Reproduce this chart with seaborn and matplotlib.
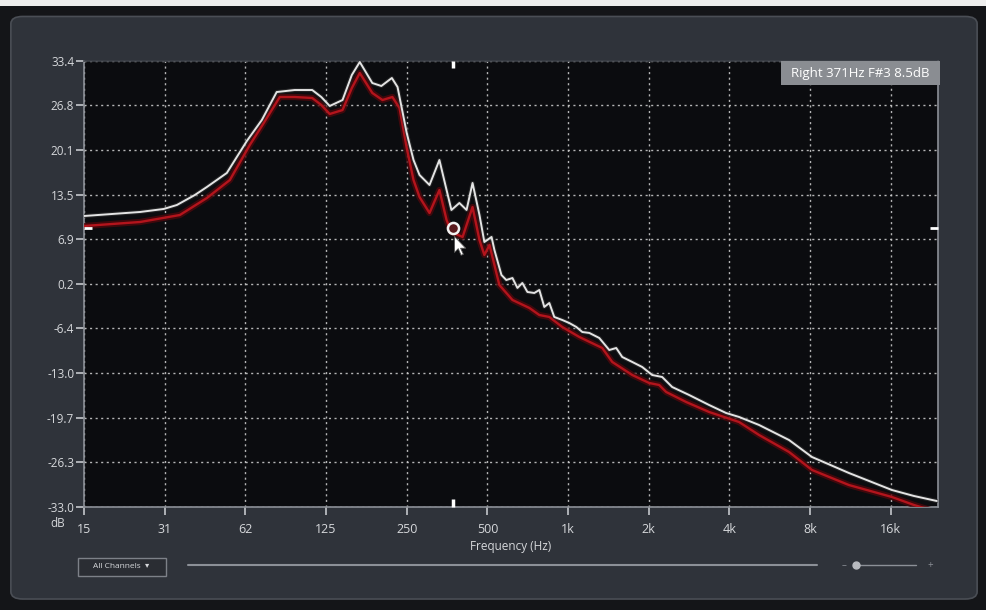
"""
Spectrum analyser view - left/right channel frequency response
"""

import numpy as np
import pandas as pd
import matplotlib.pyplot as plt
import seaborn as sns
from matplotlib.patches import FancyBboxPatch, Rectangle
from matplotlib.path import Path

# ---------------------------------------------------------------
# DATA
# ---------------------------------------------------------------

# white trace
freq_left = [15.6, 25.3, 31.0, 34.7, 40.5, 44.9, 53.3, 63.3, 72.0, 81.8,
             95.5, 111, 120, 129, 144, 156, 167, 186, 201, 220,
             231, 250, 265, 279, 304, 331, 352, 367, 393, 418,
             440, 467, 487, 518, 531, 564, 588, 620, 647, 675,
             705, 748, 781, 815, 851, 888, 951, 1010, 1073, 1130,
             1200, 1307, 1424, 1512, 1592, 1735, 1890, 2059, 2244, 2445,
             2829, 3359, 3886, 4344, 5156, 6672, 8125, 11158, 16137, 19500,
             23735]
left_db = [10.32, 10.92, 11.37, 11.96, 13.45, 14.64, 16.73, 21.49, 24.62, 28.78,
           29.08, 29.08, 28.04, 26.70, 27.59, 31.32, 33.25, 30.12, 29.68, 30.87,
           29.53, 22.68, 18.66, 16.43, 14.94, 18.66, 14.19, 11.22, 12.26, 11.22,
           15.24, 10.47, 6.45, 7.20, 5.26, 1.54, 0.79, 1.09, -0.39, 0.35,
           -0.99, -1.14, -0.69, -3.22, -2.63, -4.71, -5.16, -5.61, -6.20, -6.95,
           -7.09, -7.84, -9.63, -9.33, -10.67, -11.41, -12.16, -13.35, -13.65, -15.14,
           -16.33, -17.82, -19.01, -19.60, -20.79, -23.03, -25.56, -27.94, -30.47, -31.36,
           -32.11]

# red trace
freq_right = [15.6, 25.3, 35.6, 44.9, 54.7, 64.9, 72.0, 84.0, 95.5, 111,
              120, 129, 144, 156, 167, 186, 203, 221, 235, 250,
              265, 279, 304, 331, 352, 367, 404, 440, 467, 487,
              509, 554, 620, 717, 781, 851, 951, 1101, 1341, 1461,
              1735, 2006, 2187, 2322, 2757, 3359, 4344, 5156, 6672, 8125,
              11158, 16137, 19500, 23735]
right_db = [8.83, 9.43, 10.47, 13.00, 15.68, 20.89, 23.72, 28.04, 28.04, 27.89,
            26.85, 25.51, 26.10, 29.38, 31.61, 28.64, 27.59, 28.04, 26.40, 20.45,
            15.68, 13.15, 10.77, 14.19, 9.73, 7.94, 7.20, 11.66, 6.75, 4.52,
            6.01, 0.05, -2.18, -3.37, -4.42, -4.71, -6.20, -7.69, -9.33, -11.41,
            -13.35, -14.54, -14.84, -15.88, -17.37, -18.86, -20.35, -22.28, -24.81, -27.49,
            -29.73, -31.51, -32.70, -33.74]

xtick_labels = ["15", "31", "62", "125", "250", "500", "1k", "2k", "4k", "8k", "16k"]
ytick_labels = ["-33.0", "-26.3", "-19.7", "-13.0", "-6.4", "0.2",
                "6.9", "13.5", "20.1", "26.8", "33.4"]

cursor_hz = 371
cursor_db = 8.5
cursor_text = "Right 371Hz F#3 8.5dB"

df_left = pd.DataFrame({"freq": freq_left, "db": left_db})
df_right = pd.DataFrame({"freq": freq_right, "db": right_db})

# ---------------------------------------------------------------
# STYLE
# ---------------------------------------------------------------

sns.set_theme(style="dark")
plt.rcParams["font.family"] = ["Open Sans", "DejaVu Sans"]

panel_col = "#2f333a"
text_col = "#d6d8db"
axis_col = "#8c9097"
tick_col = "#b9bcc1"

fig = plt.figure(figsize=(9.87, 6.10), dpi=100, facecolor="#141518")

# window panel behind everything
fig.patches.append(Rectangle((0, 0.99), 1, 0.01, transform=fig.transFigure,
                             facecolor="#eeeeee", edgecolor="none", zorder=-10))
fig.patches.append(FancyBboxPatch((0.011, 0.018), 0.979, 0.955,
                                  boxstyle="round,pad=0,rounding_size=0.012",
                                  transform=fig.transFigure, facecolor=panel_col,
                                  edgecolor="#4a4e55", linewidth=1.2, zorder=-10))

ax = fig.add_axes([0.0851, 0.1689, 0.8653, 0.7311])
ax.set_facecolor("#0b0c0f")

# ---------------------------------------------------------------
# CURVES
# ---------------------------------------------------------------

# red channel with a soft glow
sns.lineplot(data=df_right, x="freq", y="db", ax=ax, color="#4e080c",
             linewidth=4.5, alpha=0.8, zorder=3)
sns.lineplot(data=df_right, x="freq", y="db", ax=ax, color="#b3141c",
             linewidth=1.7, zorder=4)
sns.lineplot(data=df_left, x="freq", y="db", ax=ax, color="#333333",
             linewidth=3.0, alpha=0.6, zorder=5)
sns.lineplot(data=df_left, x="freq", y="db", ax=ax, color="#e4e4e4",
             linewidth=1.4, zorder=6)

# ---------------------------------------------------------------
# AXES
# ---------------------------------------------------------------

ax.set_xscale("log", base=2)
xticks = [15.625 * 2 ** i for i in range(len(xtick_labels))]
ax.set_xlim(15.625, 24000)
ax.set_ylim(-33.0, 33.4)
ax.set_xticks(xticks)
ax.set_xticklabels(xtick_labels)
ax.set_yticks([float(v) for v in ytick_labels])
ax.set_yticklabels(ytick_labels)
ax.minorticks_off()

ax.grid(True, color="#c9c9c9", linestyle=(0, (1.5, 2.5)), linewidth=1.0, alpha=0.9)
ax.set_axisbelow(True)

# seaborn's dark style hides tick marks, switch them back on
ax.tick_params(axis="both", bottom=True, left=True, colors=tick_col,
               labelcolor=text_col, labelsize=8.5, direction="out",
               length=6, width=1.3)
ax.tick_params(axis="x", pad=5.5, labelsize=9)
ax.tick_params(axis="y", pad=1)
for side in ["left", "bottom", "right", "top"]:
    ax.spines[side].set_visible(True)
    ax.spines[side].set_color(axis_col)
    ax.spines[side].set_linewidth(1.2)
ax.spines["top"].set_color("#3c4047")

ax.set_xlabel("Frequency (Hz)", color=text_col, fontsize=8.5, labelpad=3)
ax.set_ylabel("")
fig.text(0.058, 0.142, "dB", color=text_col, fontsize=8.5, ha="center", va="center")

# ---------------------------------------------------------------
# CURSOR
# ---------------------------------------------------------------

# little white markers on the inside of the frame at the cursor position
down = Path([(0, 0), (0, -1)])
up = Path([(0, 0), (0, 1)])
rightward = Path([(0, 0), (1, 0)])
leftward = Path([(0, 0), (-1, 0)])
ax.plot([cursor_hz], [33.4], marker=down, markersize=10, color="white", mew=2.5,
        clip_on=False, zorder=8)
ax.plot([cursor_hz], [-33.0], marker=up, markersize=12, color="white", mew=2.5,
        clip_on=False, zorder=8)
ax.plot([15.625], [cursor_db], marker=rightward, markersize=12, color="white", mew=2,
        clip_on=False, zorder=8)
ax.plot([24000], [cursor_db], marker=leftward, markersize=12, color="white", mew=2,
        clip_on=False, zorder=8)

ax.plot([cursor_hz], [cursor_db], marker="o", markersize=8, markerfacecolor="#5a1a1e",
        markeredgecolor="#f2f2f2", mew=1.8, zorder=9)
arrow = Path([(0, 0), (0, -17), (4, -13), (7, -20), (9.5, -19), (6.5, -12.5),
              (12, -12.5), (0, 0)])
ax.plot([cursor_hz * 1.015], [cursor_db - 1.2], marker=arrow, markersize=27,
        color="white", mec="#555555", mew=0.6, zorder=10)

# readout box in the top right corner
ax.add_patch(Rectangle((0.816, 0.946), 0.186, 0.054, transform=ax.transAxes,
                       facecolor="#8a8d92", edgecolor="none", clip_on=False, zorder=11))
ax.text(0.909, 0.973, cursor_text, transform=ax.transAxes, ha="center", va="center",
        color="white", fontsize=9.5, zorder=12)

# ---------------------------------------------------------------
# BOTTOM CONTROLS
# ---------------------------------------------------------------

fig.patches.append(Rectangle((0.079, 0.056), 0.089, 0.03, transform=fig.transFigure,
                             facecolor="#2a2d33", edgecolor="#7d8188", linewidth=1.0))
fig.text(0.123, 0.071, "All Channels  \u25be", color=text_col, fontsize=6,
         ha="center", va="center")
fig.lines.append(plt.Line2D([0.19, 0.828], [0.073, 0.073], transform=fig.transFigure,
                            color="#8c9097", linewidth=1.5))
fig.lines.append(plt.Line2D([0.867, 0.928], [0.073, 0.073], transform=fig.transFigure,
                            color="#8c9097", linewidth=1.0))
fig.lines.append(plt.Line2D([0.867], [0.073], transform=fig.transFigure, marker="o",
                            markersize=5, color="#b8bbc0"))
fig.text(0.855, 0.073, "\u2013", color=axis_col, fontsize=7, ha="center", va="center")
fig.text(0.943, 0.073, "+", color=axis_col, fontsize=7, ha="center", va="center")

plt.savefig("out.png", dpi=100, facecolor=fig.get_facecolor())
plt.close()
print("saved out.png")
